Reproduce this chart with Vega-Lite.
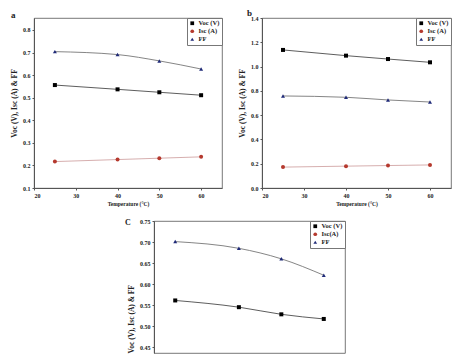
{
  "$schema": "https://vega.github.io/schema/vega-lite/v6.json",
  "padding": {"left": 10, "top": 8, "right": 0, "bottom": 0},
  "background": "white",
  "datasets": {
    "pts": [
      {"panel": "a", "temp": 25, "series": "Voc (V)", "value": 0.556},
      {"panel": "a", "temp": 40, "series": "Voc (V)", "value": 0.537},
      {"panel": "a", "temp": 50, "series": "Voc (V)", "value": 0.524},
      {"panel": "a", "temp": 60, "series": "Voc (V)", "value": 0.511},
      {"panel": "a", "temp": 25, "series": "Isc (A)", "value": 0.217},
      {"panel": "a", "temp": 40, "series": "Isc (A)", "value": 0.226},
      {"panel": "a", "temp": 50, "series": "Isc (A)", "value": 0.232},
      {"panel": "a", "temp": 60, "series": "Isc (A)", "value": 0.238},
      {"panel": "a", "temp": 25, "series": "FF", "value": 0.704},
      {"panel": "a", "temp": 40, "series": "FF", "value": 0.691},
      {"panel": "a", "temp": 50, "series": "FF", "value": 0.663},
      {"panel": "a", "temp": 60, "series": "FF", "value": 0.627},
      {"panel": "b", "temp": 25, "series": "Voc (V)", "value": 1.137},
      {"panel": "b", "temp": 40, "series": "Voc (V)", "value": 1.09},
      {"panel": "b", "temp": 50, "series": "Voc (V)", "value": 1.062},
      {"panel": "b", "temp": 60, "series": "Voc (V)", "value": 1.035},
      {"panel": "b", "temp": 25, "series": "Isc (A)", "value": 0.172},
      {"panel": "b", "temp": 40, "series": "Isc (A)", "value": 0.18},
      {"panel": "b", "temp": 50, "series": "Isc (A)", "value": 0.185},
      {"panel": "b", "temp": 60, "series": "Isc (A)", "value": 0.19},
      {"panel": "b", "temp": 25, "series": "FF", "value": 0.758},
      {"panel": "b", "temp": 40, "series": "FF", "value": 0.747},
      {"panel": "b", "temp": 50, "series": "FF", "value": 0.725},
      {"panel": "b", "temp": 60, "series": "FF", "value": 0.708},
      {"panel": "c", "temp": 25, "series": "Voc (V)", "value": 0.561},
      {"panel": "c", "temp": 40, "series": "Voc (V)", "value": 0.545},
      {"panel": "c", "temp": 50, "series": "Voc (V)", "value": 0.528},
      {"panel": "c", "temp": 60, "series": "Voc (V)", "value": 0.517},
      {"panel": "c", "temp": 25, "series": "Isc(A)", "value": 0.22},
      {"panel": "c", "temp": 40, "series": "Isc(A)", "value": 0.228},
      {"panel": "c", "temp": 50, "series": "Isc(A)", "value": 0.233},
      {"panel": "c", "temp": 60, "series": "Isc(A)", "value": 0.238},
      {"panel": "c", "temp": 25, "series": "FF", "value": 0.701},
      {"panel": "c", "temp": 40, "series": "FF", "value": 0.685},
      {"panel": "c", "temp": 50, "series": "FF", "value": 0.66},
      {"panel": "c", "temp": 60, "series": "FF", "value": 0.621}
    ]
  },
  "config": {
    "font": "Liberation Serif",
    "axis": {
      "labelFont": "Liberation Serif", "labelFontWeight": "bold", "labelFontSize": 6, "labelColor": "#222",
      "titleFont": "Liberation Serif", "titleFontWeight": "bold", "titleFontSize": 7.5, "titleColor": "#222",
      "domainColor": "#555", "tickColor": "#555", "tickSize": 2, "labelPadding": 2, "grid": false
    },
    "legend": {
      "orient": "top-right", "offset": 0, "strokeColor": "#777", "padding": 2,
      "labelFont": "Liberation Serif", "labelFontWeight": "bold", "labelFontSize": 6.5, "labelColor": "#222",
      "symbolSize": 14, "rowPadding": 1, "title": null, "fillColor": "white", "labelOffset": 3
    },
    "title": {"font": "Liberation Serif", "fontWeight": "bold", "fontSize": 9, "anchor": "start", "frame": "group", "offset": 0, "color": "#222"},
    "view": {"stroke": "#555", "strokeWidth": 0.8}
  },
  "spacing": 10,
  "resolve": {
    "scale": {"color": "independent", "shape": "independent", "x": "independent", "y": "independent"},
    "legend": {"color": "independent", "shape": "independent"}
  },
  "vconcat": [
    {
      "spacing": 15,
      "resolve": {
        "scale": {"color": "independent", "shape": "independent", "x": "independent", "y": "independent"},
        "legend": {"color": "independent", "shape": "independent"}
      },
      "hconcat": [
        {
          "width": 188, "height": 170,
          "title": {"text": "a", "dx": -23, "dy": 6},
          "data": {"name": "pts"},
          "transform": [{"filter": "datum.panel === 'a'"}],
          "encoding": {
            "x": {"field": "temp", "type": "quantitative", "scale": {"domain": [20, 65]}, "axis": {"values": [20, 30, 40, 50, 60], "title": "Temperature (°C)", "titleFontSize": 5.5, "titlePadding": 3}},
            "y": {"field": "value", "type": "quantitative", "scale": {"domain": [0.1, 0.853], "nice": false, "zero": false}, "axis": {"values": [0.1, 0.2, 0.3, 0.4, 0.5, 0.6, 0.7, 0.8], "format": ".1f", "title": "Voc (V), Isc (A) & FF", "titlePadding": 4}}
          },
          "layer": [
            {
              "mark": {"type": "line", "interpolate": "monotone", "strokeWidth": 0.8},
              "encoding": {
                "detail": {"field": "series", "type": "nominal"},
                "color": {"condition": [{"test": "datum.series === 'FF'", "value": "#666"}, {"test": "indexof(datum.series, 'Isc') === 0", "value": "#c99"}], "value": "#333"}
              }
            },
            {
              "mark": {"type": "point", "filled": true, "size": 16, "opacity": 1},
              "encoding": {
                "color": {"field": "series", "type": "nominal", "scale": {"domain": ["Voc (V)", "Isc (A)", "FF"], "range": ["#000000", "#b5392e", "#1f2a78"]}},
                "shape": {"field": "series", "type": "nominal", "scale": {"domain": ["Voc (V)", "Isc (A)", "FF"], "range": ["square", "circle", "triangle-up"]}}
              }
            }
          ]
        },
        {
          "width": 189, "height": 170,
          "title": {"text": "b", "dx": -15, "dy": 7},
          "data": {"name": "pts"},
          "transform": [{"filter": "datum.panel === 'b'"}],
          "encoding": {
            "x": {"field": "temp", "type": "quantitative", "scale": {"domain": [20, 65]}, "axis": {"values": [20, 30, 40, 50, 60], "title": "Temperature (°C)", "titleFontSize": 5.5, "titlePadding": 3}},
            "y": {"field": "value", "type": "quantitative", "scale": {"domain": [0, 1.4], "nice": false}, "axis": {"values": [0, 0.2, 0.4, 0.6, 0.8, 1.0, 1.2, 1.4], "format": ".1f", "title": "Voc (V), Isc (A) & FF", "titlePadding": 4}}
          },
          "layer": [
            {
              "mark": {"type": "line", "interpolate": "monotone", "strokeWidth": 0.8},
              "encoding": {
                "detail": {"field": "series", "type": "nominal"},
                "color": {"condition": [{"test": "datum.series === 'FF'", "value": "#666"}, {"test": "indexof(datum.series, 'Isc') === 0", "value": "#c99"}], "value": "#333"}
              }
            },
            {
              "mark": {"type": "point", "filled": true, "size": 16, "opacity": 1},
              "encoding": {
                "color": {"field": "series", "type": "nominal", "scale": {"domain": ["Voc (V)", "Isc (A)", "FF"], "range": ["#000000", "#b5392e", "#1f2a78"]}},
                "shape": {"field": "series", "type": "nominal", "scale": {"domain": ["Voc (V)", "Isc (A)", "FF"], "range": ["square", "circle", "triangle-up"]}}
              }
            }
          ]
        }
      ]
    },
    {
      "spacing": 0,
      "resolve": {
        "scale": {"color": "independent", "shape": "independent", "x": "independent", "y": "independent"},
        "legend": {"color": "independent", "shape": "independent"}
      },
      "hconcat": [
        {
          "width": 90, "height": 132,
          "view": {"stroke": null},
          "data": {"values": [{"k": 1}]},
          "mark": {"type": "point", "opacity": 0},
          "encoding": {}
        },
        {
          "width": 191, "height": 132,
          "title": {"text": "C", "dx": -29, "dy": 13, "fontSize": 8},
          "data": {"name": "pts"},
          "transform": [{"filter": "datum.panel === 'c'"}],
          "encoding": {
            "x": {"field": "temp", "type": "quantitative", "scale": {"domain": [20, 65]}, "axis": null},
            "y": {"field": "value", "type": "quantitative", "scale": {"domain": [0.436, 0.75], "nice": false, "zero": false}, "axis": {"values": [0.45, 0.5, 0.55, 0.6, 0.65, 0.7, 0.75], "format": ".2f", "title": "Voc (V), Isc (A) & FF", "titlePadding": 4, "titleAnchor": "start"}}
          },
          "layer": [
            {
              "mark": {"type": "line", "interpolate": "monotone", "strokeWidth": 0.8, "clip": true},
              "encoding": {
                "detail": {"field": "series", "type": "nominal"},
                "color": {"condition": [{"test": "datum.series === 'FF'", "value": "#666"}, {"test": "indexof(datum.series, 'Isc') === 0", "value": "#c99"}], "value": "#333"}
              }
            },
            {
              "mark": {"type": "point", "filled": true, "size": 16, "opacity": 1, "clip": true},
              "encoding": {
                "color": {"field": "series", "type": "nominal", "scale": {"domain": ["Voc (V)", "Isc(A)", "FF"], "range": ["#000000", "#b5392e", "#1f2a78"]}},
                "shape": {"field": "series", "type": "nominal", "scale": {"domain": ["Voc (V)", "Isc(A)", "FF"], "range": ["square", "circle", "triangle-up"]}}
              }
            }
          ]
        }
      ]
    }
  ]
}
